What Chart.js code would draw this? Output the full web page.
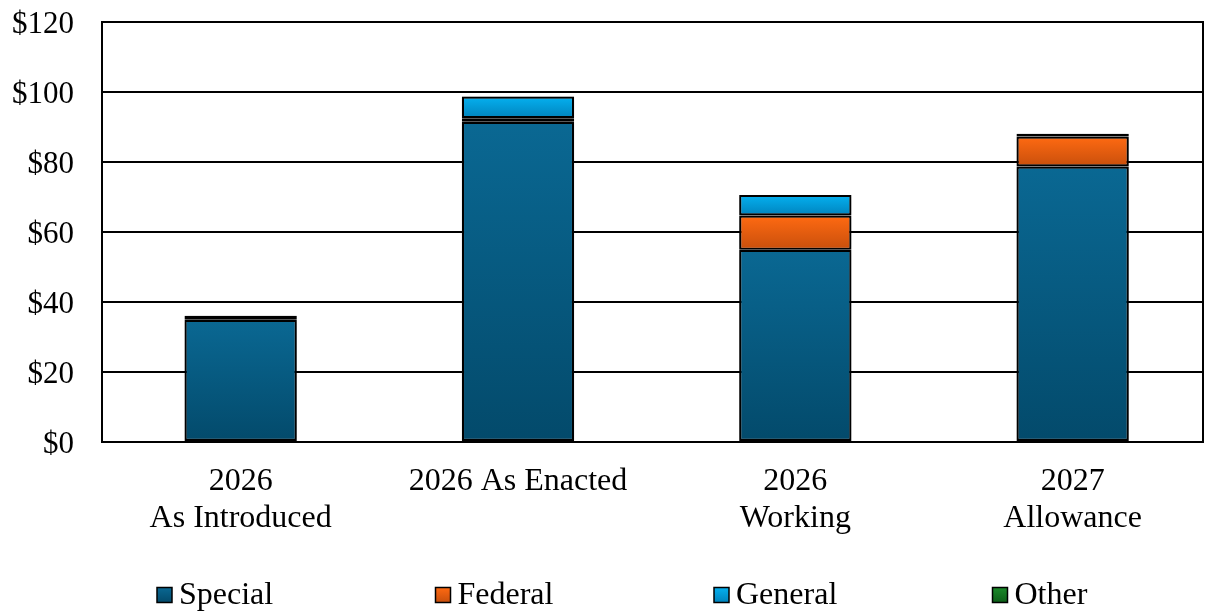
<!DOCTYPE html>
<html>
<head>
<meta charset="utf-8">
<script src="https://cdn.jsdelivr.net/npm/chart.js@4/dist/chart.umd.min.js"></script>
<style>
  html, body { margin: 0; padding: 0; background: #ffffff; }
  #wrap { width: 1205px; height: 612px; position: relative; }
</style>
</head>
<body>
<div id="wrap"><canvas id="chart" width="1205" height="612"></canvas></div>
<script>
// Categories (multi-line labels) and fund sources, in $ millions
const categories = [["2026", "As Introduced"], "2026 As Enacted", ["2026", "Working"], ["2027", "Allowance"]];
const special = [34.9, 91.5, 54.9, 78.7];
const federal = [1.2, 1.0, 9.8, 8.6];
const general = [0, 6.2, 5.9, 0];
const other = [0, 0, 0, 0.8];
const yTicks = [0, 20, 40, 60, 80, 100, 120];

const seriesNames = ["Special", "Federal", "General", "Other"];
const seriesValues = [special, federal, general, other];
// top / bottom shade of each fill
const shades = [
  ["#0a6893", "#034a6b"],
  ["#ff6a12", "#c84f0c"],
  ["#05b1f0", "#0083bd"],
  ["#1b8a2a", "#0d5e18"]
];

const FONT = "'Liberation Serif', 'Times New Roman', serif";

function segmentFill(ctx) {
  const chart = ctx.chart;
  const ds = ctx.datasetIndex;
  const i = ctx.dataIndex;
  const pal = shades[ds];
  const y = chart.scales && chart.scales.y;
  if (!y || i === undefined || !chart.chartArea) return pal[0];
  let base = 0;
  for (let k = 0; k < ds; k++) base += seriesValues[k][i];
  const top = base + seriesValues[ds][i];
  const yTop = y.getPixelForValue(top);
  const yBot = y.getPixelForValue(base);
  if (!isFinite(yTop) || !isFinite(yBot) || yTop === yBot) return pal[0];
  const g = chart.ctx.createLinearGradient(0, yTop, 0, yBot);
  g.addColorStop(0, pal[0]);
  g.addColorStop(1, pal[1]);
  return g;
}

// empty segments get no outline
function segmentBorder(ctx) {
  const v = seriesValues[ctx.datasetIndex][ctx.dataIndex];
  return v ? 2.2 : 0;
}

const datasets = seriesNames.map((name, k) => ({
  label: name,
  data: seriesValues[k],
  backgroundColor: segmentFill,
  borderColor: "#000000",
  borderWidth: segmentBorder,
  borderSkipped: false,
  barPercentage: 0.81,
  categoryPercentage: 0.5
}));

// category slots run slightly wider than the plot box
const slotPlugin = {
  id: "slots",
  afterLayout(chart) {
    const x = chart.scales.x;
    x._startValue = -0.5;
    x._valueRange = 3.97;
  }
};

// plot-area frame drawn beneath the bars, soft shadow on bars
const framePlugin = {
  id: "frame",
  beforeDatasetsDraw(chart) {
    const { ctx, chartArea: a } = chart;
    ctx.save();
    ctx.strokeStyle = "#000000";
    ctx.lineWidth = 2;
    ctx.strokeRect(a.left, a.top, a.right - a.left, a.bottom - a.top);
    ctx.restore();
    ctx.save();
    ctx.shadowColor = "rgba(0,0,0,0.35)";
    ctx.shadowBlur = 5;
    ctx.shadowOffsetX = 0;
    ctx.shadowOffsetY = 0;
  },
  afterDatasetsDraw(chart) {
    chart.ctx.restore();
  }
};

// evenly spaced legend row along the bottom
const legendPlugin = {
  id: "rowLegend",
  afterDraw(chart) {
    const { ctx } = chart;
    const startX = 157, step = 278.5, cy = 595, box = 15;
    ctx.save();
    ctx.font = "32px " + FONT;
    ctx.textBaseline = "middle";
    ctx.textAlign = "left";
    chart.data.datasets.forEach((d, k) => {
      const x = startX + k * step;
      const g = ctx.createLinearGradient(0, cy - box / 2, 0, cy + box / 2);
      g.addColorStop(0, shades[k][0]);
      g.addColorStop(1, shades[k][1]);
      ctx.fillStyle = g;
      ctx.fillRect(x, cy - box / 2, box, box);
      ctx.strokeStyle = "#000000";
      ctx.lineWidth = 1.5;
      ctx.strokeRect(x, cy - box / 2, box, box);
      ctx.fillStyle = "#000000";
      ctx.fillText(d.label, x + box + 7, cy + 1);
    });
    ctx.restore();
  }
};

new Chart(document.getElementById("chart"), {
  type: "bar",
  data: { labels: categories, datasets },
  plugins: [slotPlugin, framePlugin, legendPlugin],
  options: {
    responsive: false,
    animation: false,
    devicePixelRatio: 1,
    layout: { padding: { left: 12, right: 2, top: 22, bottom: 70 } },
    plugins: {
      legend: { display: false },
      tooltip: { enabled: false }
    },
    scales: {
      x: {
        stacked: true,
        grid: { display: false, drawTicks: false },
        border: { display: true, color: "#000000", width: 2 },
        afterFit(scale) { scale.height = 100; scale.paddingLeft = 0; scale.paddingRight = 0; },
        ticks: {
          color: "#000000",
          font: { family: FONT, size: 32, lineHeight: 1.13 },
          padding: 22,
          maxRotation: 0,
          autoSkip: false
        }
      },
      y: {
        stacked: true,
        min: 0,
        max: 120,
        afterBuildTicks(scale) { scale.ticks = yTicks.map(v => ({ value: v })); },
        afterFit(scale) { scale.width = 90; scale.paddingTop = 0; scale.paddingBottom = 0; },
        grid: { color: "#000000", lineWidth: 2, drawTicks: false },
        border: { display: true, color: "#000000", width: 2 },
        ticks: {
          color: "#000000",
          font: { family: FONT, size: 31 },
          padding: 28,
          labelOffset: 3,
          callback: v => "$" + v
        }
      }
    }
  }
});
</script>
</body>
</html>
